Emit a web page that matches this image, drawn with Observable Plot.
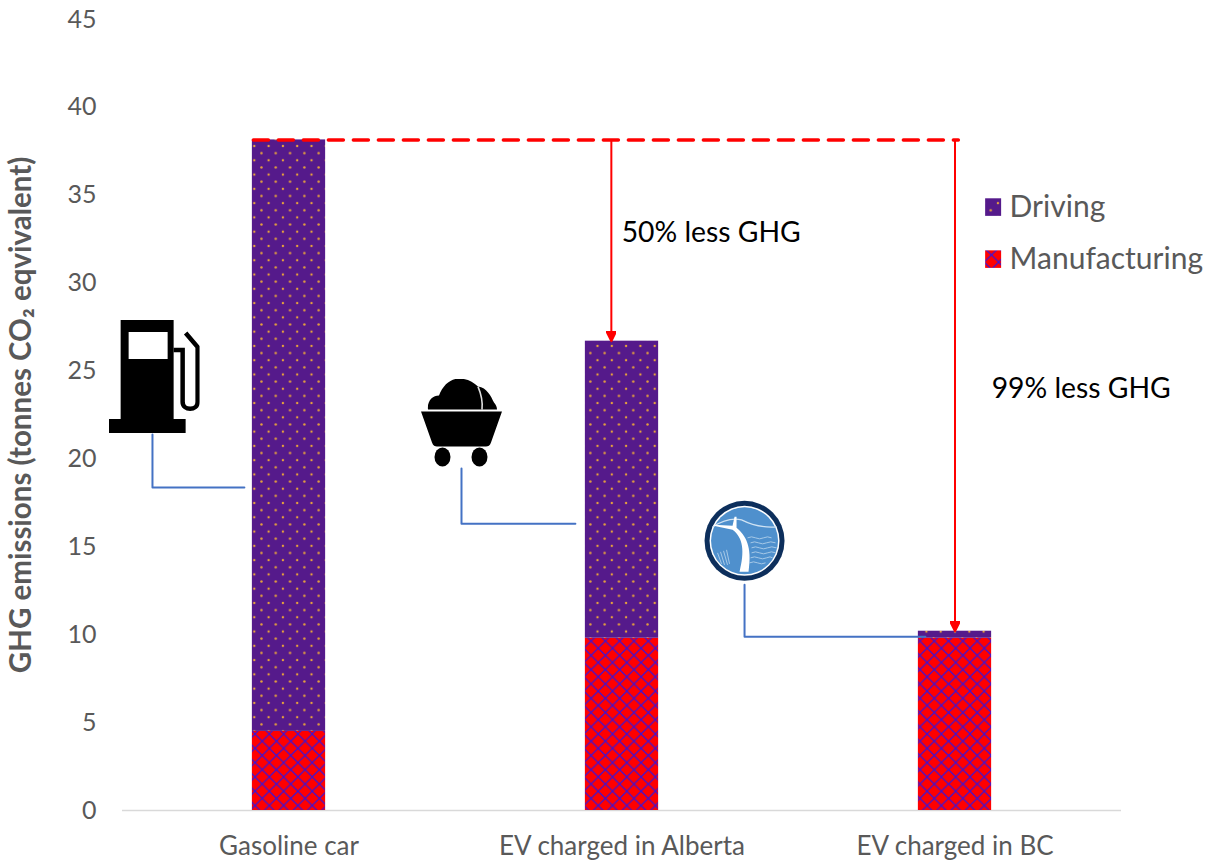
<!DOCTYPE html>
<html>
<head>
<meta charset="utf-8">
<style>html,body{margin:0;padding:0;background:#fff;overflow:hidden}</style>
<script src="https://cdn.jsdelivr.net/npm/d3@7"></script>
<script src="https://cdn.jsdelivr.net/npm/@observablehq/plot@0.6"></script>
</head>
<body>
<script>
const categories = ["Gasoline car", "EV charged in Alberta", "EV charged in BC"];
const categoryPositions = [0.5, 1.5, 2.5];
const manufacturing = [4.5, 9.8, 9.8];
const driving = [33.65, 16.9, 0.4];
const yTicks = [0, 5, 10, 15, 20, 25, 30, 35, 40, 45];
const yTitle = "GHG emissions (tonnes CO₂ eqvivalent)";
const barHalfWidth = 0.11;

const legendItems = ["Driving", "Manufacturing"];
const legendY = [34.3, 31.34];
const calloutLabels = ["50% less GHG", "99% less GHG"];
const calloutX = [1.499, 2.61];
const calloutY = [32.87, 24.0];

const dashX = [0.393, 2.51];
const dashY = 38.15;
const arrowX = [1.468, 2.5];
const arrowEnd = [26.7, 10.2];

const connectors = [
  [[0.09, 21.39], [0.09, 18.37], [0.366, 18.37]],
  [[1.018, 19.45], [1.018, 16.32], [1.36, 16.32]],
  [[1.868, 12.85], [1.868, 9.89], [2.411, 9.89]]
];

const pumpSvg = `<svg xmlns="http://www.w3.org/2000/svg" viewBox="0 0 91 113"><path fill-rule="evenodd" d="M12 0H65V99H77V113H0V99H12ZM20 12V39H59V12Z"/><path fill="none" stroke="#000" stroke-width="4.5" d="M65 30H74V82C74 91 89 91 89 82V27L77 13"/></svg>`;
const cartSvg = `<svg xmlns="http://www.w3.org/2000/svg" viewBox="0 0 81 89"><path d="M7 31C6 22 12 17 18 17C22 6 30 0 38 0C46 0 52 3 57 8C66 9 70 18 73 24C75 26 76 29 76 31Z"/><path fill="none" stroke="#ddd" stroke-width="1.6" d="M57 8C60 15 62 22 61 31"/><path d="M0 33H81L70 64C69 67 67 68 65 68H16C14 68 12 67 11 64Z"/><ellipse cx="21.5" cy="78.5" rx="8" ry="9.5"/><ellipse cx="58.5" cy="78.5" rx="8" ry="9.5"/></svg>`;
const hydroSvg = `<svg xmlns="http://www.w3.org/2000/svg" viewBox="0 0 82 82"><circle cx="41" cy="41" r="40" fill="#0d2f5c"/><circle cx="41" cy="41" r="35" fill="#fff"/><circle cx="41" cy="41" r="33.5" fill="#4f90cd"/><path fill="none" stroke="#cfe2f3" stroke-width="1.2" d="M9 27C20 20 30 18 38 20C48 25 60 28 73 27"/><path fill="#fff" d="M29 26L31 17L33 17L33 28C42 36 49 46 45 72L36 72C41 52 40 38 29 30L10 26L10 25Z"/><g fill="none" stroke="#bcd7ee" stroke-width=".8"><path d="M44 38q4-2 8 0t8 0t8 0"/><path d="M47 43q4-2 8 0t8 0t9 0"/><path d="M48 48q4-2 8 0t8 0t9 0"/><path d="M48 53q4-2 8 0t8 0t8 0"/><path d="M47 58q4-2 8 0t8 0t6 0"/><path d="M46 63q4-2 8 0t8 0"/><path d="M23 50l3 14M20 51l4 14M17 52l4 13M14 53l4 11"/></g></svg>`;
const uri = s => "data:image/svg+xml;charset=utf-8," + encodeURIComponent(s);
const icons = [
  {x: 0.095, y: 24.69, w: 91, h: 113, src: uri(pumpSvg)},
  {x: 1.018, y: 22.04, w: 81, h: 89, src: uri(cartSvg)},
  {x: 1.868, y: 15.34, w: 82, h: 82, src: uri(hydroSvg)}
];

const bars = categories.flatMap((c, i) => [
  {x1: categoryPositions[i] - barHalfWidth, x2: categoryPositions[i] + barHalfWidth, y1: 0, y2: manufacturing[i], fill: "url(#hatch)"},
  {x1: categoryPositions[i] - barHalfWidth, x2: categoryPositions[i] + barHalfWidth, y1: manufacturing[i], y2: manufacturing[i] + driving[i], fill: "url(#dots)"}
]);
const arrows = arrowX.flatMap((x, i) => [{x, y: dashY, k: i}, {x, y: arrowEnd[i], k: i}]);
const connectorPts = connectors.flatMap((c, k) => c.map(([x, y]) => ({x, y, k})));

const ns = "http://www.w3.org/2000/svg";
function headMarker(color, context) {
  const m = context.document.createElementNS(ns, "marker");
  m.setAttribute("viewBox", "0 0 10 10");
  m.setAttribute("markerWidth", 10);
  m.setAttribute("markerHeight", 10);
  m.setAttribute("markerUnits", "userSpaceOnUse");
  m.setAttribute("refX", 10);
  m.setAttribute("refY", 5);
  m.setAttribute("orient", "auto");
  const p = context.document.createElementNS(ns, "path");
  p.setAttribute("d", "M0 0L10 5L0 10Z");
  p.setAttribute("fill", color);
  m.appendChild(p);
  return m;
}

const grey = "#595959";
const chart = Plot.plot({
  width: 1211, height: 863,
  marginLeft: 122, marginRight: 90, marginTop: 19, marginBottom: 53,
  style: {fontFamily: "Lato, 'Open Sans', sans-serif", background: "#fff"},
  x: {domain: [0, 3], axis: null},
  y: {domain: [0, 45], axis: null},
  marks: [
    Plot.ruleY([0], {stroke: "#d9d9d9", strokeWidth: 1.5}),
    Plot.axisY({ticks: yTicks, tickSize: 0, tickPadding: 26, fontSize: 25, fill: grey, label: null}),
    Plot.axisX({ticks: categoryPositions, tickFormat: (d, i) => categories[i], tickSize: 0, tickPadding: 26, fontSize: 26, fill: grey, label: null, anchor: "bottom"}),
    Plot.text([yTitle], {text: d => d, frameAnchor: "left", textAnchor: "middle", y: [22.5], rotate: -90, dx: -101, fontSize: 29.5, fontWeight: 700, fill: grey}),
    Plot.rect(bars, {x1: "x1", x2: "x2", y1: "y1", y2: "y2", fill: "fill"}),
    Plot.line(connectorPts, {x: "x", y: "y", z: "k", stroke: "#4472c4", strokeWidth: 2, curve: "linear"}),
    Plot.line(dashX.map(x => ({x, y: dashY})), {x: "x", y: "y", stroke: "#ff0000", strokeWidth: 3.5, strokeDasharray: "15 10"}),
    Plot.line(arrows, {x: "x", y: "y", z: "k", stroke: "#ff0000", strokeWidth: 2, markerEnd: headMarker}),
    Plot.text(calloutLabels, {text: d => d, x: (d, i) => calloutX[i], y: (d, i) => calloutY[i], textAnchor: "start", fontSize: 28.3, fill: "#000"}),
    Plot.rect(legendItems, {x1: 2.592, x2: 2.64, y1: (d, i) => legendY[i] - 0.5, y2: (d, i) => legendY[i] + 0.5, fill: (d, i) => i ? "url(#hatch)" : "url(#dots)"}),
    Plot.text(legendItems, {text: d => d, x: 2.664, y: (d, i) => legendY[i], textAnchor: "start", fontSize: 30, fill: grey}),
    Plot.image(icons, {x: "x", y: "y", width: "w", height: "h", src: "src"})
  ]
});

const defs = document.createElementNS(ns, "defs");
defs.innerHTML = `
<pattern id="dots" patternUnits="userSpaceOnUse" x="11.2" y="3.2" width="14.3" height="14.28">
  <rect width="14.3" height="14.28" fill="#551a8b"/>
  <circle cx="0" cy="0" r="1.2" fill="#e8a33a"/><circle cx="14.3" cy="0" r="1.2" fill="#e8a33a"/>
  <circle cx="0" cy="14.28" r="1.2" fill="#e8a33a"/><circle cx="14.3" cy="14.28" r="1.2" fill="#e8a33a"/>
  <circle cx="7.15" cy="7.14" r="1.2" fill="#e8a33a"/>
</pattern>
<pattern id="hatch" patternUnits="userSpaceOnUse" x="11.9" y="4.7" width="14.3" height="14.3">
  <rect width="14.3" height="14.3" fill="#ff0000"/>
  <path d="M0 0L14.3 14.3M14.3 0L0 14.3" stroke="#3a14d8" stroke-width="1.2" fill="none"/>
</pattern>`;
chart.insertBefore(defs, chart.firstChild);
document.body.appendChild(chart);
</script>
</body>
</html>
